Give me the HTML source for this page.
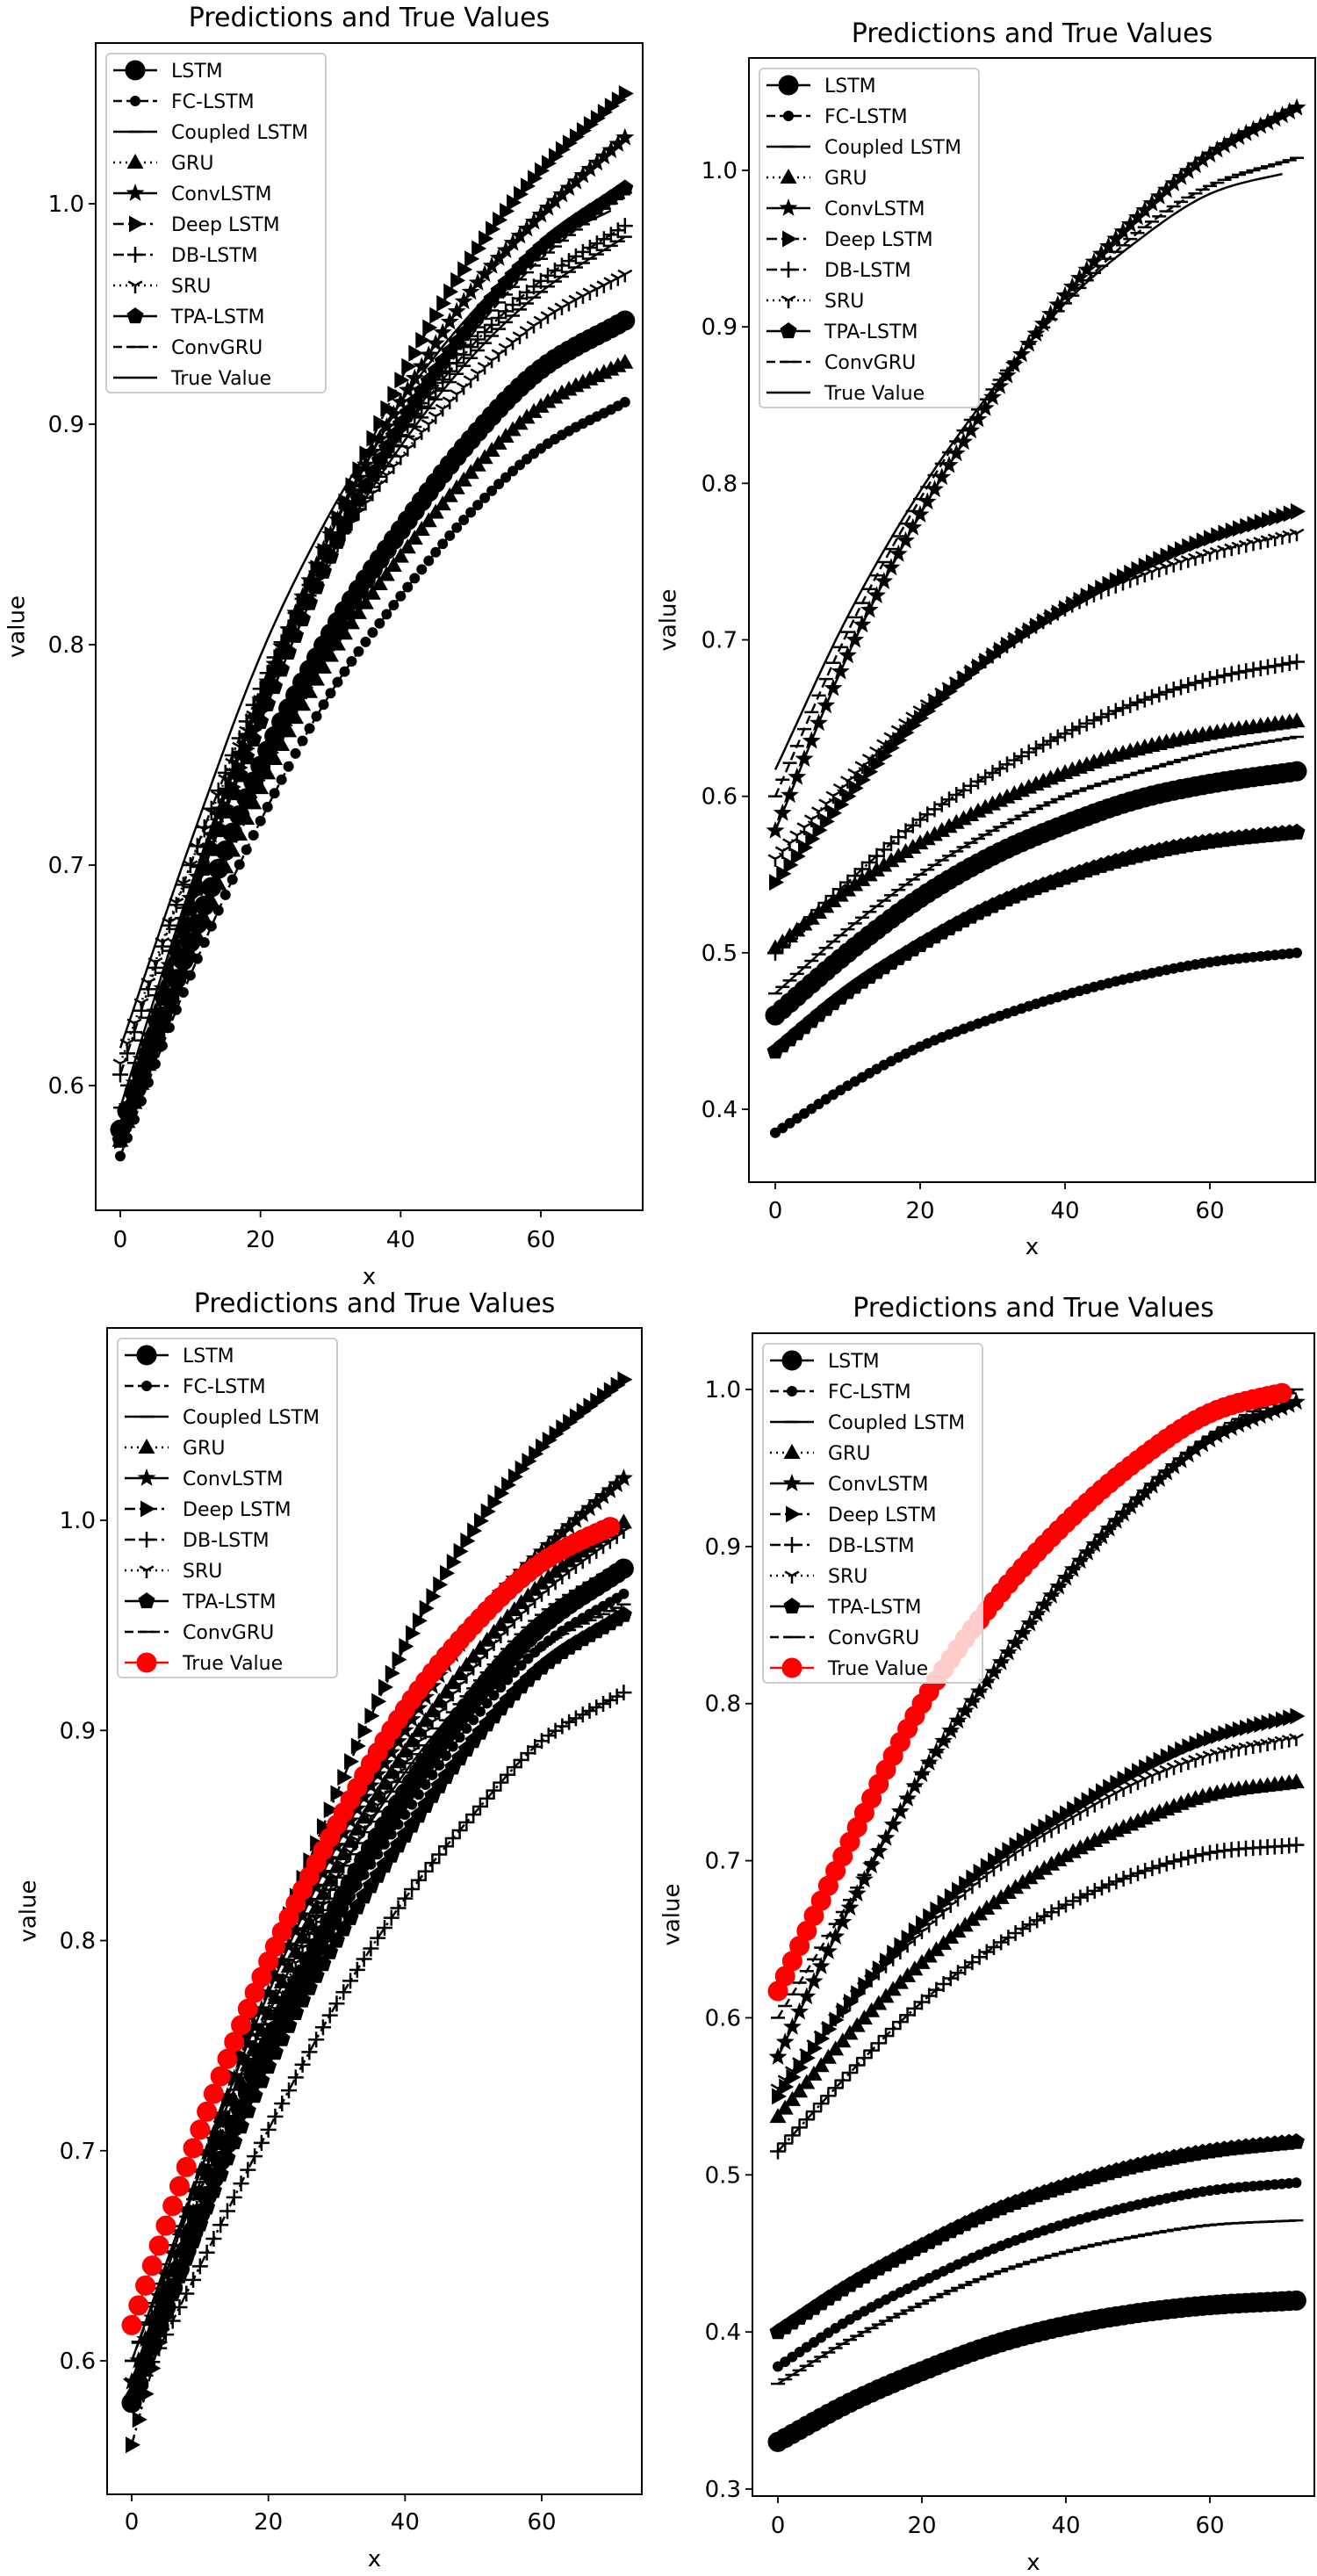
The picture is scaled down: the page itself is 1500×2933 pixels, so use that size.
<!DOCTYPE html>
<html><head><meta charset="utf-8"><title>Predictions and True Values</title>
<style>
html,body{margin:0;padding:0;background:#fff;}
svg{display:block;font-family:"DejaVu Sans","Liberation Sans",sans-serif;}
</style></head>
<body>
<svg id="fig" width="1500" height="2933" viewBox="0 0 1500 2933" xmlns="http://www.w3.org/2000/svg"></svg>
<script>
// ---- data (values read at x = 0,10,20,30,40,50,60,72) ----
const X_KNOTS = [0,10,20,30,40,50,60,72];
const SERIES_NAMES = ['LSTM','FC-LSTM','Coupled LSTM','GRU','ConvLSTM','Deep LSTM','DB-LSTM','SRU','TPA-LSTM','ConvGRU','True Value'];
const TICKS_X = [0,20,40,60];

// panel 1 (top-left)
const p1_LSTM    = [0.580,0.665,0.745,0.805,0.852,0.893,0.925,0.947];
const p1_FC      = [0.568,0.650,0.720,0.778,0.822,0.860,0.889,0.910];
const p1_Coupled = [0.590,0.690,0.775,0.840,0.890,0.930,0.960,0.985];
const p1_GRU     = [0.575,0.660,0.735,0.795,0.840,0.878,0.908,0.928];
const p1_Conv    = [0.580,0.685,0.775,0.850,0.910,0.960,0.995,1.030];
const p1_Deep    = [0.575,0.680,0.770,0.850,0.920,0.975,1.015,1.050];
const p1_DB      = [0.605,0.700,0.780,0.845,0.895,0.935,0.965,0.990];
const p1_SRU     = [0.610,0.700,0.775,0.840,0.885,0.920,0.947,0.968];
const p1_TPA     = [0.575,0.680,0.765,0.840,0.900,0.945,0.980,1.007];
const p1_ConvGRU = [0.580,0.680,0.765,0.840,0.895,0.940,0.975,1.005];
const p1_True    = [0.617,0.710,0.795,0.860,0.910,0.950,0.980,1.000];
const p1_TicksY  = [0.6,0.7,0.8,0.9,1.0];

// panel 2 (top-right)
const p2_LSTM    = [0.460,0.500,0.535,0.562,0.582,0.598,0.608,0.616];
const p2_FC      = [0.385,0.415,0.440,0.458,0.473,0.485,0.494,0.500];
const p2_Coupled = [0.474,0.515,0.550,0.578,0.600,0.615,0.628,0.638];
const p2_GRU     = [0.503,0.540,0.570,0.595,0.615,0.630,0.640,0.648];
const p2_Conv    = [0.578,0.690,0.780,0.855,0.920,0.970,1.010,1.040];
const p2_Deep    = [0.545,0.600,0.650,0.690,0.720,0.745,0.765,0.782];
const p2_DB      = [0.500,0.545,0.585,0.615,0.640,0.660,0.675,0.686];
const p2_SRU     = [0.560,0.610,0.655,0.690,0.720,0.740,0.755,0.768];
const p2_TPA     = [0.437,0.475,0.505,0.530,0.548,0.562,0.571,0.577];
const p2_ConvGRU = [0.600,0.705,0.790,0.860,0.915,0.960,0.990,1.008];
const p2_True    = [0.617,0.715,0.795,0.860,0.915,0.955,0.985,1.000];
const p2_TicksY  = [0.4,0.5,0.6,0.7,0.8,0.9,1.0];

// panel 3 (bottom-left)
const p3_LSTM    = [0.580,0.670,0.750,0.815,0.870,0.915,0.950,0.977];
const p3_FC      = [0.580,0.670,0.745,0.810,0.860,0.905,0.940,0.965];
const p3_Coupled = [0.600,0.690,0.765,0.830,0.880,0.920,0.955,0.980];
const p3_GRU     = [0.585,0.680,0.765,0.835,0.890,0.935,0.970,0.999];
const p3_Conv    = [0.590,0.690,0.775,0.845,0.900,0.950,0.985,1.020];
const p3_Deep    = [0.560,0.680,0.785,0.870,0.940,0.995,1.035,1.067];
const p3_DB      = [0.580,0.645,0.710,0.770,0.820,0.860,0.895,0.918];
const p3_SRU     = [0.590,0.680,0.760,0.830,0.885,0.930,0.965,0.995];
const p3_TPA     = [0.580,0.665,0.740,0.800,0.850,0.895,0.930,0.955];
const p3_ConvGRU = [0.600,0.685,0.760,0.820,0.870,0.910,0.940,0.960];
const p3_True    = [0.617,0.710,0.790,0.855,0.910,0.950,0.980,1.000];
const p3_TicksY  = [0.6,0.7,0.8,0.9,1.0];

// panel 4 (bottom-right)
const p4_LSTM    = [0.330,0.355,0.375,0.392,0.404,0.412,0.417,0.420];
const p4_FC      = [0.378,0.408,0.432,0.453,0.469,0.481,0.490,0.495];
const p4_Coupled = [0.367,0.395,0.418,0.437,0.451,0.461,0.468,0.471];
const p4_GRU     = [0.537,0.590,0.635,0.673,0.703,0.725,0.742,0.750];
const p4_Conv    = [0.575,0.670,0.755,0.820,0.880,0.930,0.968,0.992];
const p4_Deep    = [0.550,0.610,0.660,0.700,0.730,0.757,0.778,0.792];
const p4_DB      = [0.515,0.565,0.610,0.645,0.672,0.692,0.705,0.710];
const p4_SRU     = [0.555,0.610,0.655,0.695,0.725,0.750,0.767,0.778];
const p4_TPA     = [0.400,0.430,0.455,0.477,0.493,0.506,0.515,0.521];
const p4_ConvGRU = [0.600,0.675,0.755,0.820,0.880,0.930,0.970,1.000];
const p4_True    = [0.617,0.712,0.800,0.865,0.915,0.955,0.985,1.000];
const p4_TicksY  = [0.3,0.4,0.5,0.6,0.7,0.8,0.9,1.0];

// ---- styles / layout ----
const STYLE = [
  {m:'o', r:11, dash:null},
  {m:'o', r:5.5, dash:'10,5'},
  {m:'_', r:8, dash:null},
  {m:'^', r:10, dash:'2,5'},
  {m:'*', r:11, dash:null},
  {m:'>', r:10, dash:'12,5,3,5'},
  {m:'+', r:9, dash:'12,5,3,5'},
  {m:'1', r:9, dash:'2,5'},
  {m:'p', r:10, dash:null},
  {m:'_', r:8, dash:'10,5'},
  {m:'none', r:0, dash:null}
];

const PANELS = [
  {id:'top-left', box:[109,49,732,1378], x0:137, x60:616, yv:[1.0,232,0.6,1236], data:[p1_LSTM,p1_FC,p1_Coupled,p1_GRU,p1_Conv,p1_Deep,p1_DB,p1_SRU,p1_TPA,p1_ConvGRU,p1_True], ticks:p1_TicksY, red:false, titleY:30, xtickY:1420, xlabY:1462, ylabX:20},
  {id:'top-right', box:[853,66,1498,1346], x0:883, x60:1378, yv:[1.0,194,0.4,1263], data:[p2_LSTM,p2_FC,p2_Coupled,p2_GRU,p2_Conv,p2_Deep,p2_DB,p2_SRU,p2_TPA,p2_ConvGRU,p2_True], ticks:p2_TicksY, red:false, titleY:48, xtickY:1387, xlabY:1428, ylabX:762},
  {id:'bottom-left', box:[122,1512,731,2840], x0:150, x60:617, yv:[1.0,1731,0.6,2688], data:[p3_LSTM,p3_FC,p3_Coupled,p3_GRU,p3_Conv,p3_Deep,p3_DB,p3_SRU,p3_TPA,p3_ConvGRU,p3_True], ticks:p3_TicksY, red:true, titleY:1494, xtickY:2880, xlabY:2922, ylabX:33},
  {id:'bottom-right', box:[857,1518,1497,2842], x0:886, x60:1378, yv:[1.0,1582,0.3,2834], data:[p4_LSTM,p4_FC,p4_Coupled,p4_GRU,p4_Conv,p4_Deep,p4_DB,p4_SRU,p4_TPA,p4_ConvGRU,p4_True], ticks:p4_TicksY, red:true, titleY:1499, xtickY:2884, xlabY:2926, ylabX:766}
];

const NS = 'http://www.w3.org/2000/svg';
const fig = document.getElementById('fig');
function el(tag, attrs, parent){
  const e = document.createElementNS(NS, tag);
  for (const k in attrs) e.setAttribute(k, attrs[k]);
  if (parent) parent.appendChild(e);
  return e;
}
// piecewise cubic Hermite through knots
function curveAt(vals, x){
  const K = X_KNOTS, n = K.length;
  let i = 0;
  while (i < n-2 && x > K[i+1]) i++;
  const slope = j => {
    if (j === 0) return (vals[1]-vals[0])/(K[1]-K[0]);
    if (j === n-1) return (vals[n-1]-vals[n-2])/(K[n-1]-K[n-2]);
    return (vals[j+1]-vals[j-1])/(K[j+1]-K[j-1]);
  };
  const h = K[i+1]-K[i], t = (x-K[i])/h;
  const t2=t*t, t3=t2*t;
  return (2*t3-3*t2+1)*vals[i] + (t3-2*t2+t)*h*slope(i) + (-2*t3+3*t2)*vals[i+1] + (t3-t2)*h*slope(i+1);
}
function marker(g, type, cx, cy, r, color){
  let e;
  if (type === 'o') e = el('circle', {cx:cx, cy:cy, r:r, fill:color, stroke:color, 'stroke-width':1}, g);
  else if (type === '^') e = el('polygon', {points:`${cx},${cy-r} ${cx+r*0.95},${cy+r*0.7} ${cx-r*0.95},${cy+r*0.7}`, fill:color}, g);
  else if (type === '>') e = el('polygon', {points:`${cx+r},${cy} ${cx-r*0.7},${cy-r*0.95} ${cx-r*0.7},${cy+r*0.95}`, fill:color}, g);
  else if (type === '_') e = el('line', {x1:cx-r, y1:cy, x2:cx+r, y2:cy, stroke:color, 'stroke-width':2.5}, g);
  else if (type === '+') e = el('path', {d:`M${cx-r},${cy}H${cx+r}M${cx},${cy-r}V${cy+r}`, stroke:color, 'stroke-width':2.5, fill:'none'}, g);
  else if (type === '1') e = el('path', {d:`M${cx},${cy}V${cy+r}M${cx},${cy}L${cx-r*0.87},${cy-r*0.5}M${cx},${cy}L${cx+r*0.87},${cy-r*0.5}`, stroke:color, 'stroke-width':2.5, fill:'none'}, g);
  else if (type === '*' || type === 'p'){
    let pts = [];
    for (let k=0;k<(type==='*'?10:5);k++){
      const a = -Math.PI/2 + k*Math.PI*2/(type==='*'?10:5);
      const rr = (type==='*' && k%2) ? r*0.42 : r;
      pts.push((cx+rr*Math.cos(a)).toFixed(1)+','+(cy+rr*Math.sin(a)).toFixed(1));
    }
    e = el('polygon', {points:pts.join(' '), fill:color}, g);
  }
  return e;
}

PANELS.forEach(P => {
  const [L,T,R,B] = P.box;
  const sx = v => P.x0 + (P.x60-P.x0)*v/60;
  const sy = v => P.yv[1] + (P.yv[3]-P.yv[1])*(v-P.yv[0])/(P.yv[2]-P.yv[0]);
  const pg = el('g', {}, fig);
  
  

  const clipId = 'clip-' + P.id;
  const cp = el('clipPath', {id:clipId}, pg);
  el('rect', {x:L, y:T, width:R-L, height:B-T}, cp);

  const title = el('text', {x:(L+R)/2, y:P.titleY, 'text-anchor':'middle', 'font-size':30, fill:'#000'}, pg);
  title.textContent = 'Predictions and True Values';
  
  

  const plot = el('g', {'clip-path':`url(#${clipId})`}, pg);
  P.data.forEach((vals, si) => {
    const st = STYLE[si];
    const isTrue = si === 10;
    const color = (isTrue && P.red) ? '#ff0000' : '#000';
    const g = el('g', {}, plot);
    
    
    const xmax = isTrue ? 70 : 72;
    let d = '';
    for (let x=0; x<=xmax; x+=0.5){
      d += (x===0?'M':'L') + sx(x).toFixed(1) + ',' + sy(curveAt(vals, x)).toFixed(1);
    }
    const line = el('path', {d:d, fill:'none', stroke:color, 'stroke-width':2.5}, g);
    if (st.dash) line.setAttribute('stroke-dasharray', st.dash);
    
    
    const mt = isTrue ? (P.red ? 'o' : 'none') : st.m;
    const mr = isTrue ? 11 : st.r;
    if (mt !== 'none'){
      for (let x=0; x<=xmax; x++){
        const m = marker(g, mt, sx(x), sy(curveAt(vals, x)), mr, color);
        
        
      }
    }
  });

  const frame = el('rect', {x:L, y:T, width:R-L, height:B-T, fill:'none', stroke:'#000', 'stroke-width':2}, pg);
  
  

  TICKS_X.forEach(tv => {
    const x = sx(tv);
    el('line', {x1:x, y1:B, x2:x, y2:B+8, stroke:'#000', 'stroke-width':1.8}, pg);
    const t = el('text', {x:x, y:P.xtickY, 'text-anchor':'middle', 'font-size':26, fill:'#000'}, pg);
    t.textContent = String(tv);
    
    
  });
  P.ticks.forEach(tv => {
    const y = sy(tv);
    el('line', {x1:L-8, y1:y, x2:L, y2:y, stroke:'#000', 'stroke-width':1.8}, pg);
    const t = el('text', {x:L-13, y:y+9, 'text-anchor':'end', 'font-size':26, fill:'#000'}, pg);
    t.textContent = tv.toFixed(1);
    
    
  });
  const xl = el('text', {x:(L+R)/2, y:P.xlabY, 'text-anchor':'middle', 'font-size':26, fill:'#000'}, pg);
  xl.textContent = 'x';
  
  
  const cy = (T+B)/2;
  const yl = el('text', {x:P.ylabX, y:cy, 'text-anchor':'middle', 'font-size':26, fill:'#000', transform:`rotate(-90 ${P.ylabX} ${cy})`, 'dominant-baseline':'middle'}, pg);
  yl.textContent = 'value';
  
  

  const lg = el('g', {}, pg);
  
  
  const lx = L+12, ly = T+12, sp = 35;
  el('rect', {x:lx, y:ly, width:250, height:386, rx:5, fill:'#fff', 'fill-opacity':0.8, stroke:'#ccc', 'stroke-width':2}, lg);
  SERIES_NAMES.forEach((name, si) => {
    const st = STYLE[si];
    const isTrue = si === 10;
    const color = (isTrue && P.red) ? '#ff0000' : '#000';
    const ey = ly + 19 + si*sp;
    const eg = el('g', {}, lg);
    
    
    const ln = el('line', {x1:lx+8, y1:ey, x2:lx+58, y2:ey, stroke:color, 'stroke-width':2.5}, eg);
    if (st.dash) ln.setAttribute('stroke-dasharray', st.dash);
    const mt = isTrue ? (P.red ? 'o' : 'none') : st.m;
    if (mt !== 'none') marker(eg, mt, lx+33, ey, isTrue ? 11 : st.r, color);
    const t = el('text', {x:lx+74, y:ey+8, 'font-size':22, fill:'#000'}, eg);
    t.textContent = name;
  });
});
</script>
</body></html>
